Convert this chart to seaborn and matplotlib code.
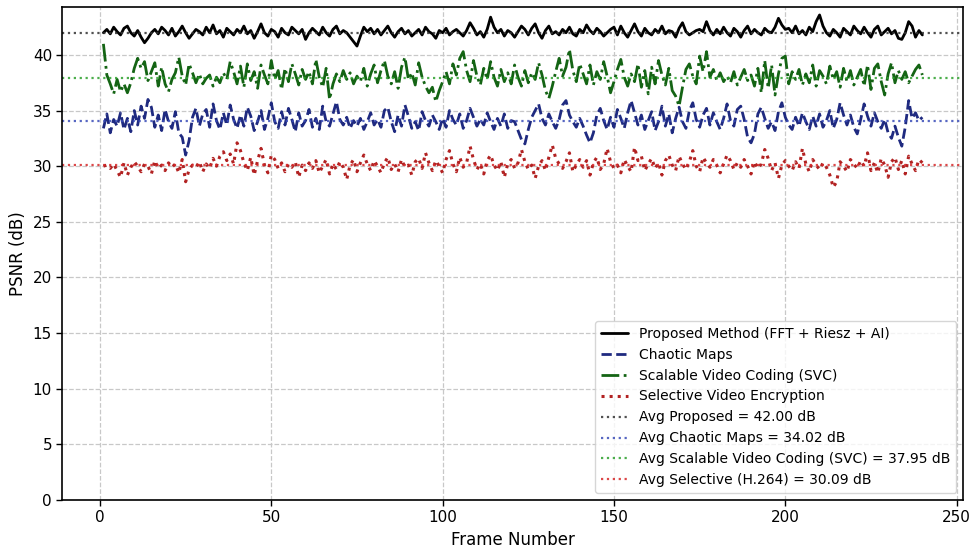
import numpy as np
import pandas as pd
import matplotlib
matplotlib.use('Agg')
import matplotlib.pyplot as plt
import seaborn as sns

sns.set_theme(style='ticks')
plt.rcParams['font.family'] = ['DejaVu Sans']
plt.rcParams['text.color'] = 'black'
plt.rcParams['axes.labelcolor'] = 'black'

# PSNR per frame
proposed = [
    42.0, 42.3, 41.9, 42.5, 42.1, 41.8, 42.4, 42.6, 42.0, 41.7, 42.2, 41.6, 41.1, 41.5, 42.0, 42.3, 41.9, 42.5, 42.2, 41.8,
    42.4, 41.7, 42.1, 42.6, 42.0, 41.5, 41.9, 42.3, 42.1, 41.8, 42.5, 42.0, 42.7, 41.9, 42.2, 41.6, 42.4, 42.1, 41.8, 42.3,
    42.0, 42.6, 41.9, 42.2, 41.5, 42.1, 42.8, 42.0, 41.7, 42.3, 42.1, 41.6, 42.4, 42.0, 41.8, 42.5, 42.2, 41.9, 42.3, 41.4,
    42.0, 42.4, 42.1, 41.8, 42.5, 42.0, 41.7, 42.3, 42.6, 41.9, 42.2, 42.0, 41.6, 41.2, 40.8, 41.7, 42.5, 42.1, 42.4, 41.9,
    42.3, 41.8, 42.2, 42.6, 42.0, 41.6, 42.1, 42.4, 41.9, 42.2, 41.7, 42.0, 42.3, 41.8, 42.5, 42.1, 41.9, 41.5, 42.2, 42.0,
    42.4, 41.8, 42.1, 42.3, 42.0, 41.7, 42.2, 42.9, 42.4, 41.8, 42.1, 41.6, 42.3, 43.4, 42.5, 42.0, 42.3, 41.7, 42.2, 42.0,
    41.6, 42.1, 42.6, 42.3, 41.8, 42.4, 42.8, 42.0, 41.5, 42.2, 42.6, 41.9, 42.1, 41.8, 42.3, 42.0, 42.5, 41.9, 41.7, 42.3,
    42.0, 42.7, 42.2, 41.9, 42.4, 42.1, 41.7, 42.0, 42.3, 42.5, 41.8, 42.6, 42.0, 41.6, 42.2, 42.8, 42.1, 41.7, 42.4, 42.0,
    41.8, 42.3, 42.0, 42.6, 41.9, 42.2, 42.1, 41.6, 42.4, 42.9, 42.1, 41.8, 42.0, 42.2, 42.3, 42.1, 43.0, 42.2, 41.8, 42.3,
    41.9, 42.5, 42.0, 41.7, 42.4, 42.1, 41.6, 42.2, 42.6, 41.9, 42.3, 42.0, 41.8, 42.4, 42.1, 42.0, 42.5, 43.3, 42.7, 42.3,
    42.4, 42.0, 42.6, 41.9, 42.2, 41.8, 42.5, 42.1, 43.0, 43.6, 42.6, 42.0, 41.7, 42.3, 42.0, 41.6, 42.4, 42.1, 41.8, 42.6,
    42.2, 41.9, 42.5, 42.0, 41.6, 42.3, 42.6, 41.8, 42.1, 42.4, 41.9, 42.2, 41.5, 41.4, 42.0, 43.0, 42.6, 41.6, 42.2, 41.8,
]

chaotic = [
    33.4, 34.7, 33.0, 34.2, 33.6, 34.8, 33.3, 34.3, 33.1, 35.0, 33.7, 35.4, 34.3, 36.0, 35.3, 33.5, 34.6, 33.2, 35.1, 34.0,
    33.4, 34.9, 33.0, 32.6, 31.0, 32.3, 34.4, 35.2, 33.6, 34.7, 35.1, 33.5, 35.6, 34.1, 33.3, 34.8, 33.7, 35.5, 34.2, 33.4,
    34.6, 33.6, 35.3, 34.5, 33.2, 34.0, 35.0, 33.3, 34.3, 35.7, 34.0, 33.4, 34.9, 33.7, 35.2, 34.2, 33.1, 34.8, 33.6, 34.1,
    35.1, 33.5, 34.3, 33.3, 35.4, 34.0, 33.6, 34.7, 35.8, 34.2, 33.7, 34.4, 33.4, 34.1, 33.6, 34.3, 33.3, 34.0, 34.8, 33.7,
    34.2, 33.5, 35.0, 35.3, 34.0, 33.1, 34.6, 33.6, 35.5, 34.5, 33.4, 34.0, 33.2, 34.9, 34.1, 33.6, 34.6, 34.0, 33.3, 34.3,
    33.5, 35.0, 34.2, 33.7, 34.7, 33.4, 34.1, 35.2, 34.4, 33.6, 34.2, 33.7, 34.8, 34.0, 33.3, 34.3, 33.6, 34.7, 33.4, 34.1,
    34.0, 33.2, 32.4, 32.0, 33.3, 34.4, 35.0, 35.6, 34.3, 33.7, 34.7, 34.0, 33.4, 34.2, 35.5, 35.9, 34.6, 34.0, 33.5, 34.3,
    33.6, 32.8, 32.1, 33.0, 34.6, 35.2, 34.1, 33.3, 34.4, 33.5, 35.1, 34.3, 33.4, 34.8, 35.9, 34.8, 33.7, 34.6, 33.3, 34.1,
    34.9, 33.2, 34.0, 35.4, 33.6, 34.7, 33.0, 34.3, 35.3, 34.0, 33.4, 35.0, 35.7, 34.2, 33.5, 34.6, 35.2, 33.7, 34.8, 34.0,
    33.3, 34.3, 35.6, 34.1, 33.6, 35.1, 35.4, 34.2, 32.6, 32.1, 32.9, 34.7, 35.3, 34.3, 33.4, 34.0, 33.2, 34.9, 35.7, 34.4,
    33.7, 33.3, 34.4, 33.6, 34.8, 34.0, 33.3, 34.5, 33.6, 34.7, 33.5, 34.1, 35.0, 33.4, 34.2, 35.7, 34.6, 33.7, 34.6, 33.5,
    32.9, 34.2, 35.6, 34.5, 33.6, 34.8, 34.0, 33.4, 34.2, 33.0, 32.5, 33.6, 32.6, 31.8, 33.5, 35.9, 34.3, 34.8, 34.1, 34.4,
]

svc = [
    41.0, 38.2, 37.4, 36.5, 37.8, 36.7, 37.4, 36.6, 37.5, 38.8, 39.7, 38.8, 39.4, 37.7, 38.5, 39.3, 37.2, 38.9, 37.4, 36.7,
    37.8, 38.4, 39.8, 38.1, 37.3, 39.2, 38.4, 37.5, 38.3, 37.4, 37.9, 38.2, 37.2, 38.0, 37.5, 38.4, 37.8, 39.4, 38.5, 37.4,
    39.0, 37.1, 39.2, 37.7, 38.5, 37.0, 39.1, 38.2, 37.4, 39.5, 37.8, 38.6, 36.9, 38.8, 37.6, 39.2, 38.3, 37.3, 38.7, 37.8,
    38.5, 37.4, 39.6, 38.0, 37.1, 38.8, 36.0, 37.4, 38.3, 37.6, 38.6, 37.8, 38.4, 37.4, 38.1, 37.6, 38.8, 37.2, 38.3, 39.1,
    37.5, 38.6, 39.5, 38.1, 37.4, 38.5, 37.0, 38.9, 39.8, 37.8, 38.4, 37.3, 39.3, 38.0, 37.2, 36.6, 37.1, 35.8, 36.8, 37.6,
    38.5, 37.4, 39.2, 38.2, 39.7, 40.3, 38.6, 37.6, 39.5, 38.1, 37.3, 38.8, 37.8, 39.4, 38.0, 37.2, 38.7, 37.6, 38.4, 37.4,
    39.1, 38.0, 37.2, 38.6, 37.5, 38.4, 37.8, 39.3, 38.2, 36.8, 36.1, 37.2, 38.5, 39.7, 38.1, 38.9, 40.5, 38.6, 37.6, 39.2,
    38.3, 37.4, 39.1, 37.3, 38.5, 37.8, 39.4, 38.1, 36.6, 37.6, 38.7, 39.6, 38.0, 37.2, 38.3, 37.6, 39.2, 37.1, 38.6, 36.5,
    38.9, 37.4, 39.5, 38.2, 37.3, 38.8, 36.8, 36.3, 35.4, 37.1, 38.7, 39.2, 38.1, 37.4, 39.9, 38.5, 40.3, 38.0, 38.7, 37.7,
    38.4, 37.6, 38.1, 37.5, 38.5, 37.3, 38.0, 38.7, 37.7, 38.2, 37.2, 38.8, 36.6, 39.5, 37.0, 39.1, 36.4, 38.3, 39.7, 39.9,
    37.4, 38.5, 37.8, 38.7, 37.3, 38.3, 37.5, 39.1, 37.2, 38.6, 38.1, 37.4, 39.0, 37.8, 38.5, 37.1, 38.8, 37.6, 38.6, 37.3,
    38.0, 38.7, 37.2, 39.1, 36.9, 38.8, 39.2, 37.6, 36.4, 38.3, 39.3, 37.5, 38.6, 37.8, 38.5, 37.5, 38.1, 38.7, 39.1, 38.2,
]

selective = [
    30.0, 30.1, 29.8, 30.2, 29.6, 29.0, 30.3, 29.2, 29.9, 30.4, 30.0, 29.5, 30.2, 30.0, 29.3, 30.5, 29.8, 30.1, 29.6, 30.3,
    29.9, 30.2, 29.4, 30.6, 28.6, 29.7, 30.1, 29.9, 30.4, 29.5, 30.2, 29.8, 30.7, 30.0, 30.9, 31.3, 30.5, 31.1, 30.2, 32.1,
    31.4, 30.3, 29.6, 30.8, 29.2, 30.5, 31.6, 30.1, 29.4, 31.0, 30.6, 29.8, 30.3, 29.5, 30.2, 29.9, 30.4, 29.0, 30.1, 29.6,
    30.3, 29.8, 30.5, 29.4, 30.0, 30.6, 29.3, 30.2, 29.7, 30.4, 29.9, 28.8, 30.1, 30.6, 29.5, 30.3, 31.0, 30.2, 29.6, 30.5,
    30.0, 29.4, 30.3, 30.8, 29.7, 30.2, 29.5, 30.6, 29.9, 30.1, 29.2, 30.4, 30.7, 29.8, 31.2, 30.3, 29.6, 30.5, 30.0, 29.4,
    30.6, 31.4, 30.2, 29.5, 30.8, 29.9, 30.3, 31.8, 30.6, 29.7, 30.2, 29.3, 30.5, 31.0, 30.1, 29.6, 30.4, 29.0, 30.2, 30.6,
    29.8, 30.3, 31.5, 30.4, 29.7, 30.1, 28.9, 30.0, 30.5, 29.6, 30.8, 31.9, 30.7, 30.2, 29.8, 30.4, 31.2, 29.5, 30.1, 30.6,
    29.9, 30.5, 29.2, 30.3, 30.8, 29.7, 30.2, 31.6, 30.4, 29.8, 30.1, 29.4, 30.6, 30.0, 29.5, 31.7, 30.5, 30.9, 29.6, 30.2,
    30.7, 29.8, 30.3, 29.2, 30.5, 31.0, 30.1, 29.6, 30.9, 30.2, 29.7, 30.4, 31.4, 30.0, 29.5, 30.8, 30.3, 29.9, 30.6, 30.1,
    29.4, 30.2, 31.0, 30.5, 29.7, 30.3, 29.9, 30.6, 30.0, 29.3, 30.4, 29.8, 30.2, 31.5, 30.7, 29.6, 30.3, 28.9, 30.1, 30.5,
    30.0, 29.6, 30.4, 29.8, 31.6, 30.2, 29.5, 30.6, 30.1, 29.7, 30.3, 29.9, 29.2, 28.1, 28.6, 30.4, 30.0, 29.5, 30.6, 30.2,
    29.8, 30.5, 30.0, 31.2, 29.6, 30.3, 29.4, 30.7, 30.1, 29.0, 30.4, 30.8, 29.7, 30.5, 29.3, 30.9, 30.2, 29.6, 30.6, 30.3,
]

avg_values = [42.00, 34.02, 37.95, 30.09]
avg_labels = ['Avg Proposed = 42.00 dB',
              'Avg Chaotic Maps = 34.02 dB',
              'Avg Scalable Video Coding (SVC) = 37.95 dB',
              'Avg Selective (H.264) = 30.09 dB']

frames = np.arange(1, len(proposed) + 1)
df = pd.DataFrame({'Frame': frames, 'Proposed': proposed, 'Chaotic': chaotic,
                   'SVC': svc, 'Selective': selective})

fig, ax = plt.subplots(figsize=(9.76, 5.51), dpi=100)

sns.lineplot(data=df, x='Frame', y='Proposed', color='black', linewidth=2,
             label='Proposed Method (FFT + Riesz + AI)', ax=ax)
sns.lineplot(data=df, x='Frame', y='Chaotic', color='#1f2a80', linewidth=2,
             linestyle='--', label='Chaotic Maps', ax=ax)
sns.lineplot(data=df, x='Frame', y='SVC', color='#146414', linewidth=2,
             linestyle='-.', label='Scalable Video Coding (SVC)', ax=ax)
sns.lineplot(data=df, x='Frame', y='Selective', color='#b22222', linewidth=2.2,
             linestyle=':', label='Selective Video Encryption', ax=ax)

avg_colors = ['#333333', '#3a4cb8', '#2ca02c', '#d62728']
for val, lab, col in zip(avg_values, avg_labels, avg_colors):
    ax.axhline(val, color=col, linestyle=':', linewidth=1.6, alpha=0.85, label=lab)

ax.set_ylim(0, 44.3)
ax.set_xticks([0, 50, 100, 150, 200, 250])
ax.set_yticks(range(0, 41, 5))
ax.grid(True, linestyle='--', color='#c8c8c8', linewidth=0.9)
for s in ax.spines.values():
    s.set_color('black')
    s.set_linewidth(1.2)
ax.tick_params(labelsize=11, colors='black', length=4, width=1)
ax.set_xlabel('Frame Number', fontsize=12)
ax.set_ylabel('PSNR (dB)', fontsize=12)
ax.legend(loc='lower right', fontsize=10, frameon=True, framealpha=0.8)

plt.subplots_adjust(left=0.064, right=0.987, top=0.987, bottom=0.093)
plt.savefig('out.png', dpi=100)
